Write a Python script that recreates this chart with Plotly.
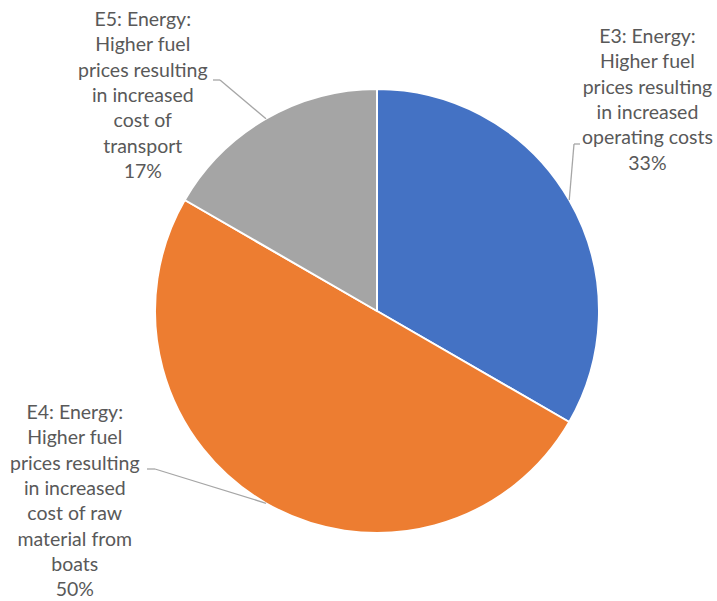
import math
import plotly.graph_objects as go

W, H = 717, 601

# Share of each energy-related impact
labels = [
    "E3: Energy:<br>Higher fuel<br>prices resulting<br>in increased<br>operating costs",
    "E4: Energy:<br>Higher fuel<br>prices resulting<br>in increased<br>cost of raw<br>material from<br>boats",
    "E5: Energy:<br>Higher fuel<br>prices resulting<br>in increased<br>cost of<br>transport",
]
values = [2, 3, 1]
colors = ["#4472C4", "#ED7D31", "#A5A5A5"]

# Pie placement in pixels
cx, cy, r = 377, 311, 222

# Label box centre-top (px) and leader elbow points (px) for each slice
label_pos = [(647, 22), (75, 398), (143, 5)]
elbows = [[(574, 144), (580, 144)], [(155, 469), (147, 469)], [(220, 80), (213, 80)]]


def px(x):
    return x / W


def py(y):
    return 1 - y / H


fig = go.Figure(
    go.Pie(
        labels=labels,
        values=values,
        sort=False,
        direction="clockwise",
        rotation=0,
        marker=dict(colors=colors, line=dict(color="white", width=2)),
        textinfo="none",
        hoverinfo="label+percent",
        showlegend=False,
        domain=dict(x=[px(cx - r), px(cx + r)], y=[py(cy + r), py(cy - r)]),
    )
)

total = sum(values)
acc = 0
shapes = []
annotations = []
for i, v in enumerate(values):
    mid = (acc + v / 2) / total * 2 * math.pi
    acc += v
    ex, ey = cx + r * math.sin(mid), cy - r * math.cos(mid)
    pts = [(ex, ey)] + elbows[i]
    for (x0, y0), (x1, y1) in zip(pts[:-1], pts[1:]):
        shapes.append(dict(type="line", xref="paper", yref="paper",
                           x0=px(x0), y0=py(y0), x1=px(x1), y1=py(y1),
                           line=dict(color="#A6A6A6", width=1.3)))
    pct = round(v / total * 100)
    lx, ly = label_pos[i]
    annotations.append(dict(
        x=px(lx), y=py(ly), xref="paper", yref="paper",
        xanchor="center", yanchor="top", showarrow=False, align="center",
        text=f"{labels[i]}<br>{pct}%",
        font=dict(family="Lato, Open Sans, sans-serif", size=19.5, color="#595959"),
    ))

fig.update_layout(
    width=W, height=H,
    margin=dict(l=0, r=0, t=0, b=0),
    paper_bgcolor="white", plot_bgcolor="white",
    shapes=shapes, annotations=annotations,
)

fig.write_html("out.html")
